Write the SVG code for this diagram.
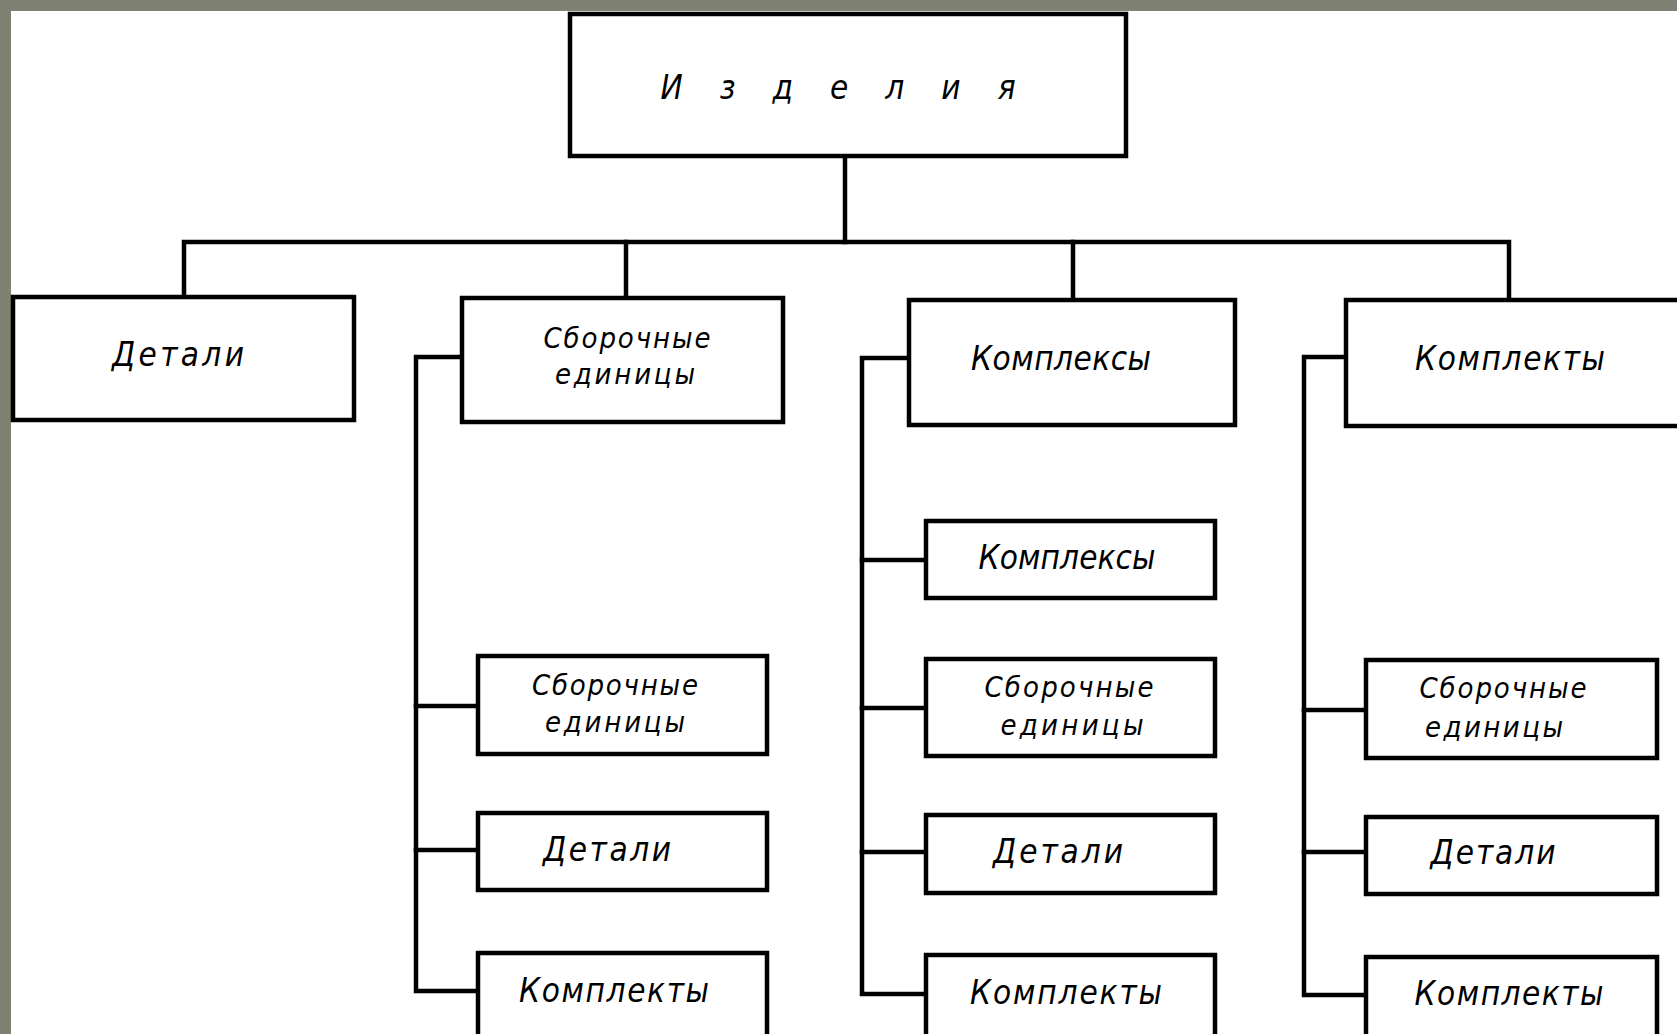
<svg xmlns="http://www.w3.org/2000/svg" width="1677" height="1034" viewBox="0 0 1677 1034">
  <style>
    .box { fill: #ffffff; stroke: #000000; stroke-width: 4.5; }
    .wire { fill: none; stroke: #000000; stroke-width: 4.5; stroke-linecap: square; }
    .lbl { font-family: "DejaVu Sans Condensed", "DejaVu Sans", sans-serif; font-style: oblique; font-size: 33px; fill: #000000; text-anchor: middle; }
    .two { font-size: 29px; }
  </style>

  <!-- sheet background with grey margin -->
  <rect x="0" y="0" width="1677" height="1034" fill="#7f8272"/>
  <rect x="11" y="11" width="1666" height="1023" fill="#ffffff"/>

  <!-- connectors -->
  <g id="connectors" class="wire">
    <!-- root trunk and bus -->
    <path d="M845 156 V242"/>
    <path d="M184 297 V242 H1509 V300"/>
    <path d="M626 242 V298"/>
    <path d="M1073 242 V300"/>
    <!-- assembly-unit branch -->
    <path d="M462 357 H416 V991 H478"/>
    <path d="M416 706 H478"/>
    <path d="M416 850 H478"/>
    <!-- complexes branch -->
    <path d="M909 358 H862 V994 H926"/>
    <path d="M862 560 H926"/>
    <path d="M862 708 H926"/>
    <path d="M862 852 H926"/>
    <!-- kits branch -->
    <path d="M1346 357 H1304 V995 H1366"/>
    <path d="M1304 710 H1366"/>
    <path d="M1304 852 H1366"/>
  </g>

  <!-- root -->
  <g id="n-products">
    <rect class="box" x="570" y="14" width="556" height="142"/>
    <text class="lbl" x="838" y="99" textLength="355" lengthAdjust="spacing">И з д е л и я</text>
  </g>

  <!-- second level -->
  <g id="n-details">
    <rect class="box" x="13" y="297" width="341" height="123"/>
    <text class="lbl" x="178" y="366" textLength="132" lengthAdjust="spacing">Детали</text>
  </g>
  <g id="n-assembly">
    <rect class="box" x="462" y="298" width="321" height="124"/>
    <text class="lbl two" x="627" y="348" textLength="167" lengthAdjust="spacing">Сборочные</text>
    <text class="lbl two" x="625" y="384" textLength="140" lengthAdjust="spacing">единицы</text>
  </g>
  <g id="n-complexes">
    <rect class="box" x="909" y="300" width="326" height="125"/>
    <text class="lbl" x="1061" y="370" textLength="180" lengthAdjust="spacing">Комплексы</text>
  </g>
  <g id="n-kits">
    <rect class="box" x="1346" y="300" width="344" height="126"/>
    <text class="lbl" x="1510" y="370" textLength="190" lengthAdjust="spacing">Комплекты</text>
  </g>

  <!-- assembly-unit children -->
  <g id="n-a-assembly">
    <rect class="box" x="478" y="656" width="289" height="98"/>
    <text class="lbl two" x="615" y="695" textLength="166" lengthAdjust="spacing">Сборочные</text>
    <text class="lbl two" x="615" y="732" textLength="140" lengthAdjust="spacing">единицы</text>
  </g>
  <g id="n-a-details">
    <rect class="box" x="478" y="813" width="289" height="77"/>
    <text class="lbl" x="607" y="861" textLength="128" lengthAdjust="spacing">Детали</text>
  </g>
  <g id="n-a-kits">
    <rect class="box" x="478" y="953" width="289" height="85"/>
    <text class="lbl" x="614" y="1002" textLength="190" lengthAdjust="spacing">Комплекты</text>
  </g>

  <!-- complexes children -->
  <g id="n-c-complexes">
    <rect class="box" x="926" y="521" width="289" height="77"/>
    <text class="lbl" x="1067" y="569" textLength="177" lengthAdjust="spacing">Комплексы</text>
  </g>
  <g id="n-c-assembly">
    <rect class="box" x="926" y="659" width="289" height="97"/>
    <text class="lbl two" x="1069" y="697" textLength="169" lengthAdjust="spacing">Сборочные</text>
    <text class="lbl two" x="1072" y="735" textLength="143" lengthAdjust="spacing">единицы</text>
  </g>
  <g id="n-c-details">
    <rect class="box" x="926" y="815" width="289" height="78"/>
    <text class="lbl" x="1058" y="863" textLength="130" lengthAdjust="spacing">Детали</text>
  </g>
  <g id="n-c-kits">
    <rect class="box" x="926" y="955" width="289" height="85"/>
    <text class="lbl" x="1066" y="1004" textLength="192" lengthAdjust="spacing">Комплекты</text>
  </g>

  <!-- kits children -->
  <g id="n-k-assembly">
    <rect class="box" x="1366" y="660" width="291" height="98"/>
    <text class="lbl two" x="1503" y="698" textLength="167" lengthAdjust="spacing">Сборочные</text>
    <text class="lbl two" x="1494" y="737" textLength="138" lengthAdjust="spacing">единицы</text>
  </g>
  <g id="n-k-details">
    <rect class="box" x="1366" y="817" width="291" height="77"/>
    <text class="lbl" x="1493" y="864" textLength="125" lengthAdjust="spacing">Детали</text>
  </g>
  <g id="n-k-kits">
    <rect class="box" x="1366" y="957" width="291" height="85"/>
    <text class="lbl" x="1509" y="1005" textLength="189" lengthAdjust="spacing">Комплекты</text>
  </g>
</svg>
